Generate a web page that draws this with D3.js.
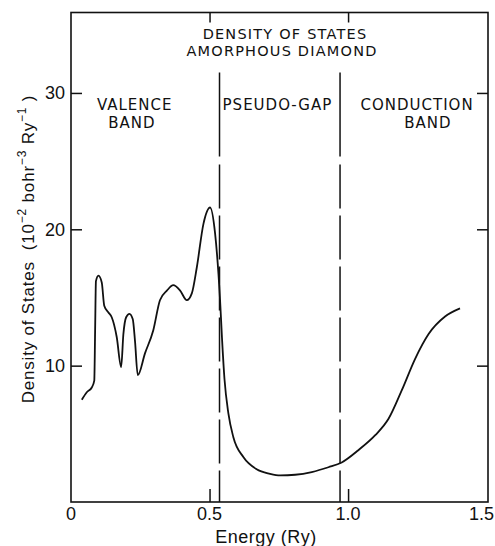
<!DOCTYPE html>
<html>
<head>
<meta charset="utf-8">
<script src="https://cdn.jsdelivr.net/npm/d3@7"></script>
<style>
  html, body { margin: 0; padding: 0; background: #fff; }
  svg { display: block; }
  text { white-space: pre; }
</style>
</head>
<body>
<svg id="chart" width="495" height="546"></svg>
<script>
// curve: energy (Ry) vs density of states
const energy = [0.039, 0.057, 0.075, 0.084, 0.087, 0.090, 0.099, 0.111, 0.120, 0.135, 0.147, 0.165,
    0.181, 0.189, 0.199, 0.211, 0.223, 0.231, 0.241, 0.267, 0.297, 0.321, 0.346, 0.369, 0.394,
    0.418, 0.436, 0.454, 0.478, 0.502, 0.520, 0.538, 0.545, 0.554, 0.568, 0.586, 0.622, 0.670,
    0.718, 0.755, 0.809, 0.869, 0.929, 0.977, 1.037, 1.098, 1.146, 1.194, 1.242, 1.290, 1.350, 1.404];
const dos = [7.5, 8.05, 8.4, 8.9, 12.5, 16.2, 16.6, 16.1, 14.4, 13.9, 13.55, 12.1,
    9.9, 12.3, 13.55, 13.8, 13.4, 11.8, 9.3, 10.9, 12.6, 14.8, 15.5, 15.9, 15.5,
    14.8, 15.3, 17.2, 20.4, 21.6, 19.7, 14.8, 12.0, 9.0, 6.5, 4.75, 3.3, 2.4,
    2.07, 1.95, 2.0, 2.2, 2.55, 2.9, 3.8, 4.9, 6.1, 8.2, 10.5, 12.3, 13.6, 14.2];

const xTicks = [0, 0.5, 1.0, 1.5];
const xTickLabels = ['0', '0.5', '1.0', '1.5'];
const yTicks = [10, 20, 30];
const dividers = [0.536, 0.971];
const dividerTop = 31.5;
const titleLines = ['DENSITY OF STATES', 'AMORPHOUS DIAMOND'];
const regionLabels = [
    { lines: ['VALENCE', 'BAND'], x: [0.23, 0.22] },
    { lines: ['PSEUDO-GAP'], x: [0.745] },
    { lines: ['CONDUCTION', 'BAND'], x: [1.249, 1.288] }
];

const mLeft = 71, mRight = 488, mTop = 12.5, mBottom = 502;

const x = d3.scaleLinear().domain([0, 1.505]).range([mLeft, mRight]);
const y = d3.scaleLinear().domain([0, 35.9]).range([mBottom, mTop]);

const svg = d3.select('#chart');
const ink = '#111';

// frame
svg.append('rect')
    .attr('x', mLeft).attr('y', mTop)
    .attr('width', mRight - mLeft).attr('height', mBottom - mTop)
    .attr('fill', 'none').attr('stroke', ink).attr('stroke-width', 1.6);

// axes, ticks pointing inward
const axB = svg.append('g').attr('transform', `translate(0,${mBottom})`)
    .call(d3.axisTop(x).tickValues([0.5, 1.0]).tickSize(13).tickFormat(''));
const axT = svg.append('g').attr('transform', `translate(0,${mTop})`)
    .call(d3.axisBottom(x).tickValues([0.5, 1.0]).tickSize(10).tickFormat(''));
const axL = svg.append('g').attr('transform', `translate(${mLeft},0)`)
    .call(d3.axisRight(y).tickValues(yTicks).tickSize(11).tickFormat(''));
const axR = svg.append('g').attr('transform', `translate(${mRight},0)`)
    .call(d3.axisLeft(y).tickValues(yTicks).tickSize(11).tickFormat(''));
[axB, axT, axL, axR].forEach(g => {
    g.select('.domain').remove();
    g.selectAll('line').attr('stroke', ink).attr('stroke-width', 1.5);
});

// tick labels (last one pulled in so it stays on the page)
svg.append('g').selectAll('text')
    .data(xTicks)
    .join('text')
    .attr('x', (d, i) => i === xTicks.length - 1 ? 494 : x(d))
    .attr('y', 520)
    .attr('text-anchor', (d, i) => i === xTicks.length - 1 ? 'end' : 'middle')
    .attr('font-family', 'Liberation Sans, Arial, sans-serif')
    .attr('font-size', 18)
    .attr('fill', ink)
    .text((d, i) => xTickLabels[i]);

svg.append('g').selectAll('text')
    .data(yTicks)
    .join('text')
    .attr('x', 65)
    .attr('y', d => y(d))
    .attr('dy', '0.36em')
    .attr('text-anchor', 'end')
    .attr('font-family', 'Liberation Sans, Arial, sans-serif')
    .attr('font-size', 18)
    .attr('fill', ink)
    .text(d => d);

// dashed dividers
svg.append('g').selectAll('line')
    .data(dividers)
    .join('line')
    .attr('x1', d => x(d)).attr('x2', d => x(d))
    .attr('y1', y(dividerTop)).attr('y2', mBottom)
    .attr('stroke', ink).attr('stroke-width', 1.5)
    .attr('stroke-dasharray', '84,8,44,7,44,7,44,7,44,7,44,7,44,7,44,7');

// curve
const pts = energy.map((e, i) => [e, dos[i]]);
svg.append('path')
    .datum(pts)
    .attr('fill', 'none')
    .attr('stroke', ink)
    .attr('stroke-width', 1.8)
    .attr('stroke-linejoin', 'round')
    .attr('d', d3.line().x(d => x(d[0])).y(d => y(d[1])).curve(d3.curveMonotoneX));

// title and region labels
const capsFont = 'DejaVu Sans, sans-serif';
svg.append('g').selectAll('text')
    .data(titleLines)
    .join('text')
    .attr('x', (d, i) => i === 0 ? 285 : 282)
    .attr('y', (d, i) => 38.5 + i * 17)
    .attr('text-anchor', 'middle')
    .attr('font-family', capsFont)
    .attr('font-size', 14.5)
    .attr('letter-spacing', 1.2)
    .attr('fill', ink)
    .text(d => d);

regionLabels.forEach(r => {
    r.lines.forEach((line, i) => {
        svg.append('text')
            .attr('x', x(r.x[i]))
            .attr('y', 110 + i * 18)
            .attr('text-anchor', 'middle')
            .attr('font-family', capsFont)
            .attr('font-size', 15)
            .attr('letter-spacing', 1)
            .attr('fill', ink)
            .text(line);
    });
});

// axis titles
svg.append('text')
    .attr('x', 266).attr('y', 543)
    .attr('text-anchor', 'middle')
    .attr('font-family', 'Liberation Sans, Arial, sans-serif')
    .attr('font-size', 18)
    .attr('letter-spacing', 0.5)
    .attr('fill', ink)
    .text('Energy (Ry)');

const yl = svg.append('text')
    .attr('transform', 'translate(34,249) rotate(-90)')
    .attr('text-anchor', 'middle')
    .attr('font-family', 'Liberation Sans, Arial, sans-serif')
    .attr('font-size', 17)
    .attr('letter-spacing', 0.8)
    .attr('fill', ink);
const parts = [
    ['Density of States  (10', 0], ['\u22122', 1], [' bohr', 0], ['\u22123', 1],
    [' Ry', 0], ['\u22121', 1], [' )', 0]
];
let lastSup = false;
parts.forEach(([t, sup]) => {
    const sp = yl.append('tspan').text(t);
    if (sup) sp.attr('font-size', 12).attr('dy', -8);
    else if (lastSup) sp.attr('dy', 8);
    lastSup = !!sup;
});
</script>
</body>
</html>
